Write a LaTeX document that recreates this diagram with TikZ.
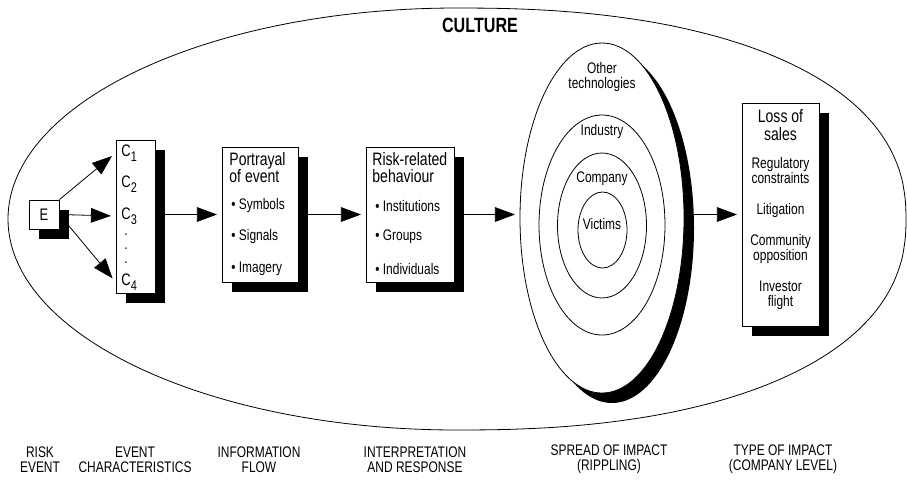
\documentclass[tikz,border=0pt]{standalone}
\usepackage{fontspec}
\setmainfont{Liberation Sans}[FakeStretch=0.78]
\usepackage{tikz}
\usetikzlibrary{shapes.geometric, arrows.meta, shadows}

\newcommand{\csub}[1]{C\raisebox{-3.5pt}{\fontsize{10.5}{10.5}\selectfont #1}}

\begin{document}
\begin{tikzpicture}[x=0.75pt, y=0.75pt, line width=0.6pt,
    box/.style={draw, fill=white, inner sep=0pt,
        drop shadow={shadow xshift=7.5pt, shadow yshift=-7.5pt, fill=black, opacity=1}},
    ring/.style={draw, ellipse, inner sep=0pt},
    txt/.style={font=\fontsize{11.5}{11.25}\selectfont, inner sep=0pt, align=center},
    head/.style={font=\fontsize{13.5}{13}\selectfont, inner sep=0pt},
    clabel/.style={font=\fontsize{12.5}{12.5}\selectfont, anchor=west, inner sep=0pt},
    flow/.style={-{Triangle[length=15pt, width=11pt]}, shorten >=3.5pt}]

    \useasboundingbox (0,0) rectangle (907,-480);

    % Culture outline
    \draw (457,-8) arc[start angle=90, end angle=270, x radius=449, y radius=211]
        -- plot[domain=-89.9:89.9, samples=80, smooth]
           ({457+449*pow(cos(\x),0.87)}, {-219+211*sign(sin(\x))*pow(abs(sin(\x)),0.87)})
        -- cycle;
    \node[font=\fontsize{15.5}{15.5}\selectfont\bfseries] (culture) at (480,-25) {CULTURE};

    % Risk event and its characteristics
    \node[box, minimum width=22.5pt, minimum height=21.75pt,
          font=\fontsize{12.5}{12.5}\selectfont] (ebox) at (44,-214.5) {E};
    \node[box, minimum width=29.25pt, minimum height=114.75pt] (cbox) at (135.5,-216.5) {};
    \node[clabel] (c1) at (121,-153) {\csub{1}};
    \node[clabel] (c2) at (121,-184) {\csub{2}};
    \node[clabel] (c3) at (121,-216) {\csub{3}};
    \node[font=\fontsize{11.5}{10.5}\selectfont, align=center, inner sep=0pt] (cdots) at (126,-249) {.\\.\\.};
    \node[clabel] (c4) at (121,-282) {\csub{4}};

    \draw[flow] (ebox.north east) -- (cbox.west |- c1);
    \draw[flow] (ebox.east) -- (cbox.west |- c3);
    \draw[flow] (ebox.east) -- (cbox.west |- c4);

    % Information flow
    \node[box, minimum width=57pt, minimum height=101.25pt] (pbox) at (260,-214.5) {};
    \node[head, align=left, anchor=west] (ptitle) at (229,-167.5) {Portrayal\\of event};
    \node[txt, anchor=west] (symbols) at (231,-206) {\textbullet\ Symbols};
    \node[txt, anchor=west] (signals) at (231,-237) {\textbullet\ Signals};
    \node[txt, anchor=west] (imagery) at (231,-269) {\textbullet\ Imagery};

    % Interpretation and response
    \node[box, minimum width=66pt, minimum height=101.25pt] (rbox) at (410,-214.5) {};
    \node[head, align=left, anchor=west] (rtitle) at (372,-167.5) {Risk-related\\behaviour};
    \node[txt, anchor=west] (institutions) at (375,-206) {\textbullet\ Institutions};
    \node[txt, anchor=west] (groups) at (375,-237) {\textbullet\ Groups};
    \node[txt, anchor=west] (individuals) at (375,-269) {\textbullet\ Individuals};

    % Spread of impact
    \node[ring, fill=white, minimum width=123pt, minimum height=262.5pt,
          drop shadow={shadow xshift=7.5pt, shadow yshift=-7.5pt, fill=black, opacity=1}] (ripple) at (602,-218) {};
    \node[ring, minimum width=94.5pt, minimum height=165pt] (industry) at (602,-225) {};
    \node[ring, minimum width=66.75pt, minimum height=108.75pt] (company) at (602,-225.5) {};
    \node[ring, minimum width=36.75pt, minimum height=57pt] (victims) at (602.5,-230) {};
    \node[txt] (othertxt) at (602,-77) {Other\\technologies};
    \node[txt] (industrytxt) at (602,-132) {Industry};
    \node[txt] (companytxt) at (602,-179) {Company};
    \node[txt] (victimstxt) at (602,-224) {Victims};

    % Type of impact
    \node[box, minimum width=57.75pt, minimum height=167.25pt] (lbox) at (780.5,-214.5) {};
    \node[head, align=center] (ltitle) at (780.5,-125) {Loss of\\sales};
    \node[txt] (regulatory) at (780.5,-171) {Regulatory\\constraints};
    \node[txt] (litigation) at (780.5,-211) {Litigation};
    \node[txt] (community) at (780.5,-249) {Community\\opposition};
    \node[txt] (investor) at (780.5,-295) {Investor\\flight};

    % Flow arrows
    \draw[flow] (cbox.east |- pbox.west) -- (pbox.west);
    \draw[flow] (pbox.east) -- (rbox.west);
    \draw[flow] (rbox.east) -- (rbox.east -| ripple.west);
    \draw[flow] (ripple.east |- lbox.west) -- (lbox.west);

    % Stage labels
    \node[txt] (riskevent) at (40,-459.5) {RISK\\EVENT};
    \node[txt] (eventchar) at (135,-459.5) {EVENT\\CHARACTERISTICS};
    \node[txt] (infoflow) at (259,-459.5) {INFORMATION\\FLOW};
    \node[txt] (interp) at (415,-459.5) {INTERPRETATION\\AND RESPONSE};
    \node[txt] (spread) at (609,-459.5) {SPREAD OF IMPACT\\(RIPPLING)};
    \node[txt] (impacttype) at (783,-459.5) {TYPE OF IMPACT\\(COMPANY LEVEL)};

\end{tikzpicture}
\end{document}
